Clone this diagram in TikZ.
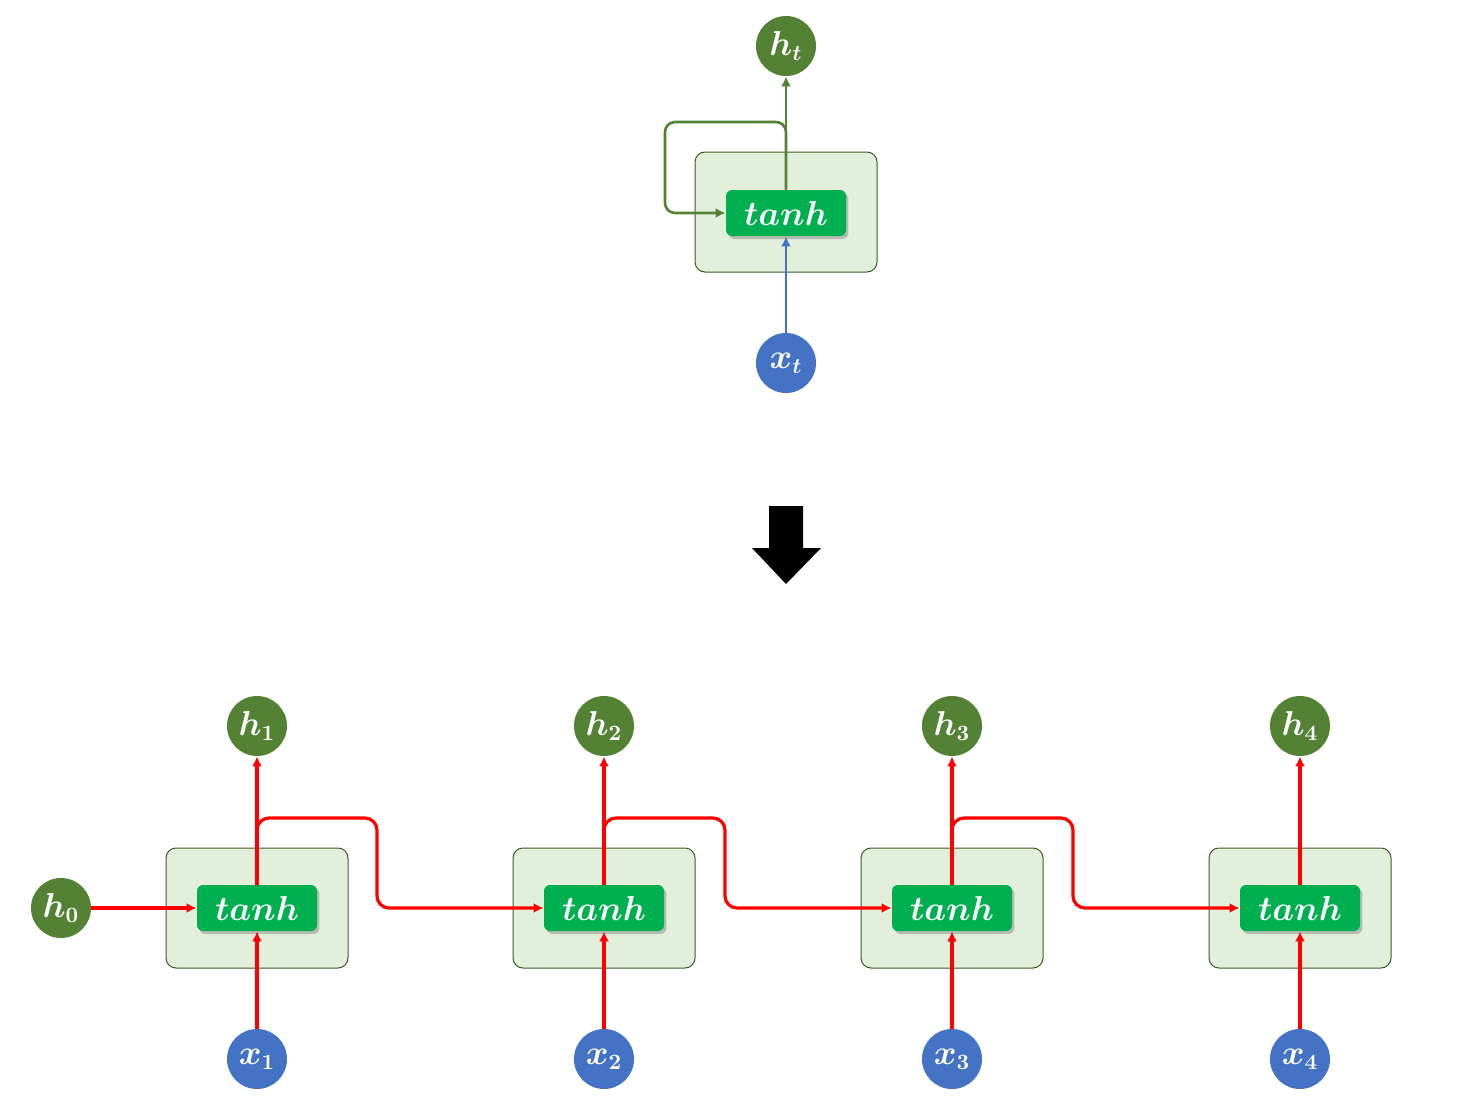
\documentclass[tikz,border=0pt]{standalone}
\usepackage{bm}
\usetikzlibrary{arrows.meta,shadows}
\definecolor{hgreen}{HTML}{548235}
\definecolor{xblue}{HTML}{4472C4}
\definecolor{cellfill}{HTML}{E2EFDA}
\definecolor{tanhgreen}{HTML}{00B050}
\tikzset{
  cellbox/.style={draw=hgreen!70!black, fill=cellfill, rounded corners=5pt,
    minimum width=91pt, minimum height=60pt, line width=0.5pt},
  tanhbox/.style={fill=tanhgreen, rounded corners=3pt, minimum width=60pt,
    minimum height=23pt, text=white, font=\fontsize{18}{20}\selectfont,
    drop shadow={opacity=0.45, shadow xshift=1.2pt, shadow yshift=-1.5pt}},
  hnode/.style={circle, fill=hgreen, minimum size=30pt, inner sep=0pt,
    text=white, font=\fontsize{16}{18}\selectfont},
  xnode/.style={hnode, fill=xblue},
  redarrow/.style={draw=red, line width=1.6pt, -{Latex[length=5pt,width=5pt]}},
  greenarrow/.style={draw=hgreen, line width=1.3pt, -{Latex[length=5pt,width=5pt]}},
  bluearrow/.style={draw=xblue, line width=1.1pt, -{Latex[length=5pt,width=5pt]}},
}
\begin{document}
\begin{tikzpicture}[x=0.5pt,y=-0.5pt]
  \useasboundingbox (0,0) rectangle (1464,1103);
  % folded cell
  \node[cellbox] (cellt) at (786,212) {};
  \node[tanhbox] (tanht) at (786,213) {$\bm{tanh}$};
  \node[hnode] (ht) at (786,46) {$\bm{h_t}$};
  \node[xnode] (xt) at (786,363) {$\bm{x_t}$};
  \coordinate (loopt) at (665,122);
  \draw[greenarrow] (tanht.north) -- (ht);
  \draw[bluearrow] (xt) -- (tanht.south);
  \draw[greenarrow, rounded corners=5pt] (tanht.north) |- (loopt) |- (tanht.west);
  % unfold arrow
  \fill[black] (769,506) -- (803,506) -- (803,548) -- (821,548) -- (786,584)
    -- (752,548) -- (769,548) -- cycle;
  % unrolled cells
  \foreach \i/\px in {1/257, 2/604, 3/952, 4/1300}{
    \node[cellbox] (cell\i) at (\px,908) {};
    \node[tanhbox] (tanh\i) at (\px,908) {$\bm{tanh}$};
    \node[hnode] (h\i) at (\px,726) {$\bm{h_{\i}}$};
    \node[xnode] (x\i) at (\px,1059) {$\bm{x_{\i}}$};
    \draw[redarrow] (tanh\i.north) -- (h\i);
    \draw[redarrow] (x\i) -- (tanh\i.south);
  }
  \node[hnode] (h0) at (61,908) {$\bm{h_0}$};
  \draw[redarrow] (h0) -- (tanh1.west);
  \foreach \i/\j/\px in {1/2/377, 2/3/725, 3/4/1073}{
    \coordinate (turn\i) at (\px,818);
    \draw[redarrow, rounded corners=6pt] (tanh\i.north) |- (turn\i) |- (tanh\j.west);
  }
\end{tikzpicture}
\end{document}
